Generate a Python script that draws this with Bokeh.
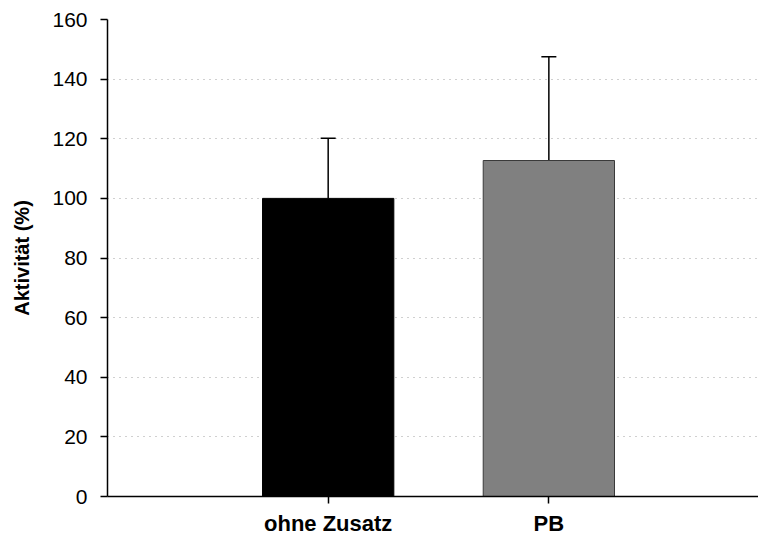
from bokeh.plotting import figure
from bokeh.models import ColumnDataSource, Whisker, TeeHead, FixedTicker, Range1d
from bokeh.embed import file_html
from bokeh.resources import INLINE

# Data
categories = ["ohne Zusatz", "PB"]
means = [100.0, 112.7]
upper_errors = [20.2, 34.8]
bar_colors = ["#000000", "#808080"]
bar_line_colors = ["#000000", "#3a3a3a"]
y_ticks = [0, 20, 40, 60, 80, 100, 120, 140, 160]

positions = [i + 1 for i in range(len(categories))]
source = ColumnDataSource(data=dict(
    x=positions,
    top=means,
    upper=[m + e for m, e in zip(means, upper_errors)],
    color=bar_colors,
    lcolor=bar_line_colors,
))

p = figure(width=758, height=541,
           x_range=Range1d(0, 2.95), y_range=Range1d(0, 160),
           output_backend="svg", toolbar_location=None,
           min_border_left=107, min_border_top=19,
           min_border_bottom=45, min_border_right=0)

p.outline_line_color = None
p.background_fill_color = "white"
p.border_fill_color = "white"

p.vbar(x="x", top="top", width=0.595, bottom=0, source=source,
       fill_color="color", line_color="lcolor", line_width=1)

whisker = Whisker(source=source, base="x", upper="upper", lower="top",
                  line_color="black", line_width=1.5,
                  upper_head=TeeHead(size=15, line_color="black", line_width=1.5),
                  lower_head=None)
p.add_layout(whisker)

# Grid
p.xgrid.grid_line_color = None
p.ygrid.ticker = FixedTicker(ticks=y_ticks)
p.ygrid.grid_line_color = "#a0a0a0"
p.ygrid.grid_line_dash = "1 5"
p.ygrid.grid_line_width = 1.2

# Y axis
p.yaxis.ticker = FixedTicker(ticks=y_ticks)
p.yaxis.axis_label = "Aktivität (%)"
p.yaxis.axis_label_text_font = "Liberation Sans"
p.yaxis.axis_label_text_font_style = "bold"
p.yaxis.axis_label_text_font_size = "20px"
p.yaxis.axis_label_text_color = "black"
p.yaxis.axis_label_standoff = 16
p.yaxis.major_label_text_font = "Liberation Sans"
p.yaxis.major_label_text_font_size = "21px"
p.yaxis.major_label_text_color = "black"
p.yaxis.major_label_standoff = 13
p.yaxis.axis_line_width = 1.5
p.yaxis.axis_line_color = "black"
p.yaxis.major_tick_line_width = 1.5
p.yaxis.major_tick_line_color = "black"
p.yaxis.major_tick_out = 7
p.yaxis.major_tick_in = 0
p.yaxis.minor_tick_line_color = None

# X axis
p.xaxis.ticker = FixedTicker(ticks=positions)
p.xaxis.major_label_overrides = {pos: cat for pos, cat in zip(positions, categories)}
p.xaxis.major_label_text_font = "Liberation Sans"
p.xaxis.major_label_text_font_style = "bold"
p.xaxis.major_label_text_font_size = "22px"
p.xaxis.major_label_text_color = "black"
p.xaxis.major_label_standoff = 7
p.xaxis.axis_line_width = 1.5
p.xaxis.axis_line_color = "black"
p.xaxis.major_tick_line_width = 1.5
p.xaxis.major_tick_line_color = "black"
p.xaxis.major_tick_out = 7
p.xaxis.major_tick_in = 0
p.xaxis.minor_tick_line_color = None

open("out.html", "w").write(file_html(p, INLINE))
